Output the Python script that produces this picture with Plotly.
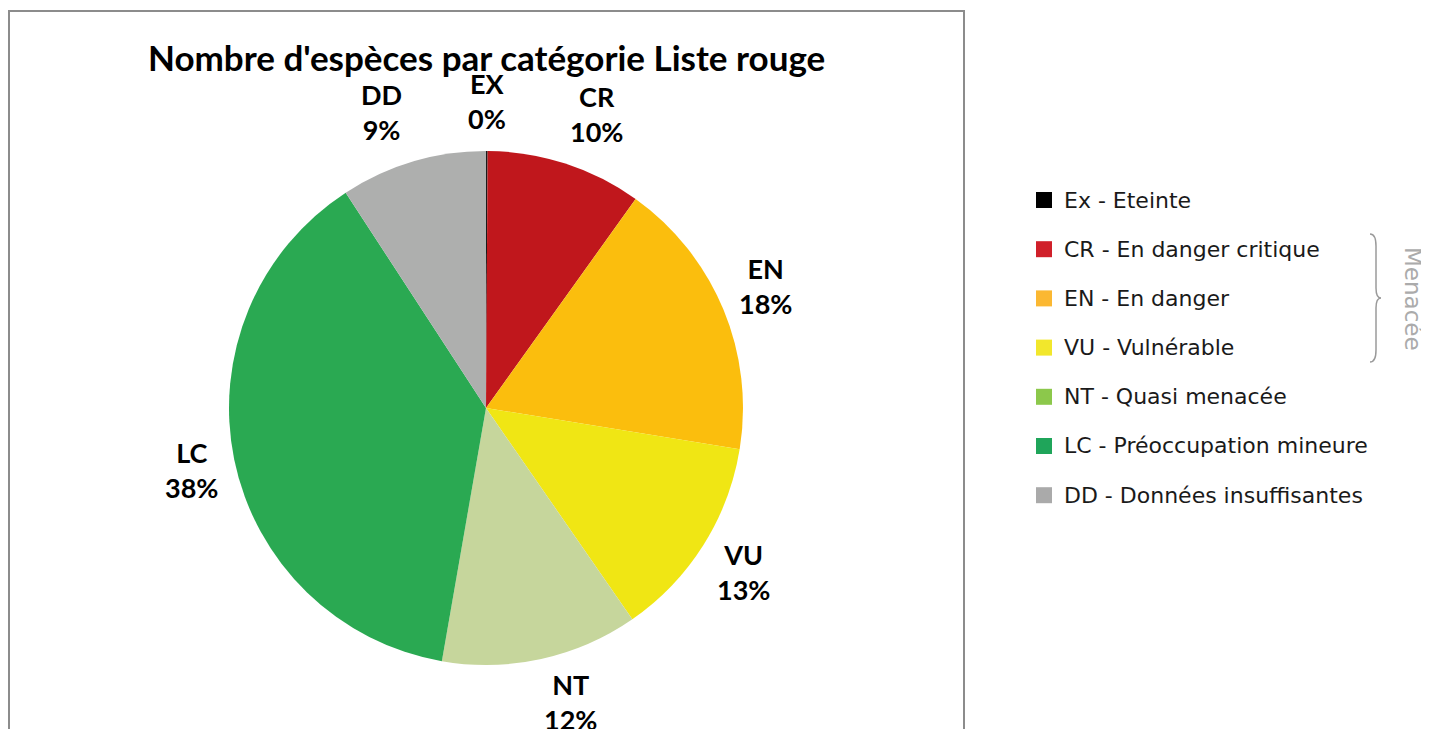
import math
import plotly.graph_objects as go

categories = ["EX", "CR", "EN", "VU", "NT", "LC", "DD"]
values = [1, 98, 177, 128, 124, 381, 92]
pie_colors = ["#1a1a1a", "#C0171C", "#FBBE0D", "#F0E614", "#C6D69C", "#2AA952", "#AEAFAE"]

legend_labels = ["Ex - Eteinte", "CR - En danger critique", "EN - En danger", "VU - Vulnérable",
                 "NT - Quasi menacée", "LC - Préoccupation mineure", "DD - Données insuffisantes"]
legend_colors = ["#000000", "#D0202A", "#FBB832", "#F2E72C", "#8CC84B", "#1FA55A", "#AAAAAA"]

# page body has an 8px margin
OFF = 8
W, H = 1421, 721


def sx(X):
    return (X - OFF) / W


def sy(Y):
    return 1 - (Y - OFF) / H


def clamp(t):
    return max(-1.0, min(1.0, t))


# pie placement (screen pixels)
CX, CY, R = 486, 408, 257
dom_x = [sx(CX - R), sx(CX + R)]
dom_y = [sy(CY + R), sy(CY - R)]

fig = go.Figure(go.Pie(
    labels=categories, values=values, sort=False, direction="clockwise", rotation=0,
    marker=dict(colors=pie_colors, line=dict(width=0)),
    textinfo="none",
    domain=dict(x=dom_x, y=dom_y),
    showlegend=False, hoverinfo="label+percent",
))

shapes = [dict(type="rect", xref="paper", yref="paper", x0=sx(9), x1=sx(964), y0=sy(11), y1=-0.2,
               line=dict(color="#8c8c8c", width=2), fillcolor="rgba(0,0,0,0)", layer="below")]
annotations = [dict(text="<b>Nombre d'espèces par catégorie Liste rouge</b>", x=sx(486), y=sy(57),
                    xref="paper", yref="paper", showarrow=False, xanchor="center", yanchor="middle",
                    font=dict(family="Lato", size=35, color="#000000"))]

# slice labels outside the pie: anchored just beyond the rim at each slice's mid angle,
# with the label box pushed outward (Excel "outside end" style)
total = sum(values)
cum = 0.0
D = R + 17
HW, HH_TOP, HH_BOT = 26, 33, 26
for cat, v in zip(categories, values):
    mid = (cum + v / 2) / total * 2 * math.pi
    cum += v
    s, c = math.sin(mid), math.cos(mid)
    X = CX + D * s
    Y = CY - D * c
    hh = HH_TOP if c > 0 else HH_BOT
    pct = round(100 * v / total)
    annotations.append(dict(text=f"<b>{cat}<br>{pct}%</b>", x=sx(X), y=sy(Y),
                            xref="paper", yref="paper", showarrow=False,
                            xanchor="center", yanchor="middle", align="center",
                            xshift=HW * clamp(5 * s), yshift=hh * clamp(1.3 * c),
                            font=dict(family="Lato", size=27, color="#000000")))

y0 = 200
step = 49.2
for i, (lab, col) in enumerate(zip(legend_labels, legend_colors)):
    yc = y0 + i * step
    shapes.append(dict(type="rect", xref="paper", yref="paper", x0=sx(1036), x1=sx(1052),
                       y0=sy(yc + 8), y1=sy(yc - 8), line=dict(width=0), fillcolor=col))
    annotations.append(dict(text=lab, x=sx(1062), y=sy(yc), xref="paper", yref="paper",
                            showarrow=False, xanchor="left", yanchor="middle",
                            font=dict(family="DejaVu Sans", size=22, color="#1a1a1a")))

# brace for "Menacée"
bx, top, bot, mid = 1370, 234, 362, 298
path = (f"M {sx(bx)} {sy(top)} Q {sx(bx+6)} {sy(top)} {sx(bx+6)} {sy(top+12)} "
        f"L {sx(bx+6)} {sy(mid-10)} Q {sx(bx+6)} {sy(mid)} {sx(bx+11)} {sy(mid)} "
        f"Q {sx(bx+6)} {sy(mid)} {sx(bx+6)} {sy(mid+10)} "
        f"L {sx(bx+6)} {sy(bot-12)} Q {sx(bx+6)} {sy(bot)} {sx(bx)} {sy(bot)}")
shapes.append(dict(type="path", xref="paper", yref="paper", path=path,
                   line=dict(color="#9a9a9a", width=1.5)))
annotations.append(dict(text="Menacée", x=sx(1413), y=sy(299), xref="paper", yref="paper",
                        showarrow=False, textangle=90, xanchor="center", yanchor="middle",
                        font=dict(family="DejaVu Sans", size=23, color="#ababab")))

fig.update_layout(width=W, height=H,
                  margin=dict(l=0, r=0, t=0, b=0, pad=0, autoexpand=False),
                  paper_bgcolor="white", plot_bgcolor="white",
                  shapes=shapes, annotations=annotations)
fig.write_html("out.html")
